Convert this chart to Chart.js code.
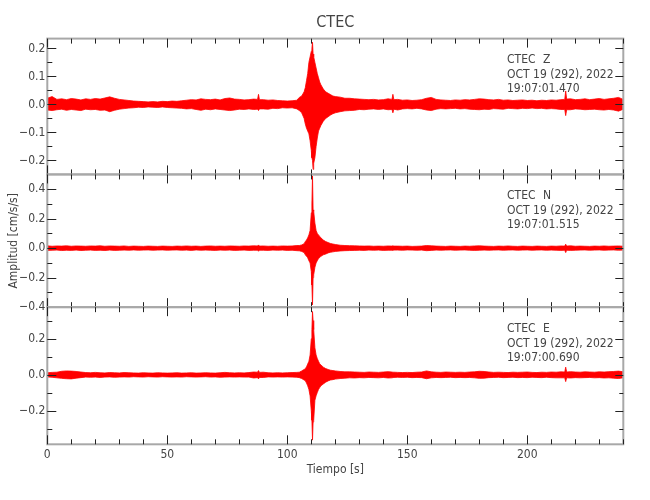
<!DOCTYPE html>
<html>
<head>
<meta charset="utf-8">
<script src="https://cdn.jsdelivr.net/npm/chart.js@4"></script>
<style>
  html, body { margin: 0; background: #fff; }
</style>
</head>
<body>
<canvas id="seis" width="650" height="500"></canvas>
<script>
// envelope of each trace (max / min per time step)
const tSec = [
  0, 2, 4, 6, 8, 10, 12, 14, 16, 18,
  20, 22, 24, 26, 28, 30, 32, 34, 36, 38,
  40, 42, 44, 46, 48, 50, 52, 54, 56, 58,
  60, 62, 64, 66, 68, 70, 72, 74, 76, 78,
  80, 82, 84, 86, 87.6, 88, 88.4, 90, 92, 94, 96, 98,
  100, 102, 104,
  105, 106, 107, 107.5, 108, 108.5, 109, 109.5, 110, 110.25,
  110.5, 110.75, 111, 111.5, 112, 112.5, 113, 113.5, 114, 115,
  116, 117, 118, 119, 120, 122, 124,
  126, 128, 130, 132, 134, 136, 138, 140, 142, 143.6, 144, 144.4,
  146, 148, 150, 152, 154, 156, 158, 160, 162, 164,
  166, 168, 170, 172, 174, 176, 178, 180, 182, 184,
  186, 188, 190, 192, 194, 196, 198, 200, 202, 204,
  206, 208, 210, 212, 214, 215.6, 216, 216.4, 218, 220, 222, 224,
  226, 228, 230, 232, 234, 236, 238, 240
];

const zMax = [
  0.022, 0.028, 0.018, 0.020, 0.017, 0.021, 0.019, 0.016, 0.020, 0.018,
  0.021, 0.019, 0.023, 0.027, 0.022, 0.018, 0.016, 0.014, 0.012, 0.011,
  0.010, 0.009, 0.010, 0.009, 0.011, 0.010, 0.012, 0.011, 0.013, 0.015,
  0.017, 0.016, 0.020, 0.018, 0.017, 0.019, 0.016, 0.021, 0.023, 0.019,
  0.018, 0.016, 0.017, 0.019, 0.018, 0.036, 0.017, 0.017, 0.015, 0.016, 0.014, 0.013,
  0.012, 0.013, 0.015,
  0.025, 0.030, 0.045, 0.060, 0.085, 0.110, 0.150, 0.170, 0.190, 0.200,
  0.222, 0.180, 0.170, 0.150, 0.130, 0.110, 0.095, 0.080, 0.070, 0.055,
  0.045, 0.040, 0.035, 0.030, 0.028, 0.026, 0.022,
  0.022, 0.020, 0.019, 0.018, 0.017, 0.018, 0.016, 0.017, 0.020, 0.018, 0.036, 0.017,
  0.018, 0.015, 0.016, 0.014, 0.015, 0.017, 0.022, 0.025, 0.018, 0.016,
  0.015, 0.014, 0.016, 0.015, 0.017, 0.016, 0.018, 0.020, 0.019, 0.017,
  0.016, 0.018, 0.015, 0.016, 0.014, 0.015, 0.016, 0.014, 0.015, 0.013,
  0.015, 0.014, 0.016, 0.015, 0.017, 0.018, 0.048, 0.019, 0.020, 0.017, 0.018, 0.020,
  0.017, 0.019, 0.021, 0.018, 0.020, 0.022, 0.025, 0.018
];
const zMin = [
  -0.020, -0.022, -0.019, -0.017, -0.021, -0.018, -0.020, -0.022, -0.017, -0.019,
  -0.018, -0.021, -0.020, -0.026, -0.021, -0.017, -0.015, -0.013, -0.012, -0.010,
  -0.011, -0.009, -0.010, -0.011, -0.009, -0.011, -0.012, -0.013, -0.014, -0.016,
  -0.015, -0.018, -0.021, -0.017, -0.019, -0.016, -0.018, -0.020, -0.022, -0.020,
  -0.017, -0.018, -0.016, -0.018, -0.017, -0.022, -0.016, -0.016, -0.017, -0.014, -0.015, -0.012,
  -0.013, -0.012, -0.016,
  -0.022, -0.030, -0.050, -0.070, -0.085, -0.095, -0.105, -0.130, -0.165, -0.190,
  -0.200, -0.232, -0.210, -0.190, -0.150, -0.120, -0.095, -0.085, -0.075, -0.060,
  -0.050, -0.044, -0.038, -0.033, -0.030, -0.026, -0.023,
  -0.022, -0.021, -0.018, -0.019, -0.017, -0.016, -0.018, -0.016, -0.019, -0.018, -0.030, -0.017,
  -0.020, -0.016, -0.015, -0.016, -0.014, -0.016, -0.020, -0.022, -0.017, -0.015,
  -0.016, -0.015, -0.014, -0.016, -0.015, -0.017, -0.018, -0.019, -0.017, -0.018,
  -0.015, -0.016, -0.017, -0.014, -0.015, -0.016, -0.014, -0.015, -0.013, -0.015,
  -0.014, -0.016, -0.015, -0.016, -0.018, -0.018, -0.040, -0.019, -0.019, -0.016, -0.017, -0.019,
  -0.018, -0.017, -0.019, -0.020, -0.018, -0.020, -0.024, -0.017
];

const nMax = [
  0.016, 0.013, 0.015, 0.014, 0.016, 0.013, 0.015, 0.014, 0.013, 0.015,
  0.014, 0.016, 0.013, 0.015, 0.014, 0.013, 0.015, 0.012, 0.014, 0.013,
  0.012, 0.014, 0.013, 0.012, 0.014, 0.013, 0.012, 0.014, 0.013, 0.015,
  0.013, 0.014, 0.012, 0.014, 0.015, 0.013, 0.014, 0.013, 0.015, 0.014,
  0.013, 0.015, 0.014, 0.016, 0.015, 0.022, 0.014, 0.015, 0.013, 0.014, 0.013, 0.015,
  0.014, 0.015, 0.018,
  0.018, 0.022, 0.030, 0.045, 0.055, 0.070, 0.090, 0.120, 0.240, 0.300,
  0.490, 0.260, 0.250, 0.170, 0.120, 0.100, 0.090, 0.080, 0.070, 0.055,
  0.045, 0.038, 0.032, 0.028, 0.025, 0.020, 0.018,
  0.017, 0.016, 0.015, 0.014, 0.015, 0.013, 0.014, 0.013, 0.015, 0.014, 0.016, 0.014,
  0.014, 0.013, 0.014, 0.012, 0.013, 0.014, 0.018, 0.016, 0.014, 0.013,
  0.012, 0.014, 0.013, 0.012, 0.014, 0.013, 0.015, 0.016, 0.014, 0.013,
  0.012, 0.014, 0.013, 0.015, 0.013, 0.012, 0.014, 0.013, 0.012, 0.014,
  0.013, 0.012, 0.014, 0.013, 0.015, 0.014, 0.027, 0.014, 0.016, 0.013, 0.014, 0.013,
  0.012, 0.014, 0.013, 0.015, 0.013, 0.014, 0.015, 0.013
];
const nMin = [
  -0.015, -0.014, -0.013, -0.016, -0.014, -0.015, -0.013, -0.016, -0.014, -0.013,
  -0.015, -0.014, -0.016, -0.013, -0.015, -0.014, -0.013, -0.014, -0.012, -0.014,
  -0.013, -0.012, -0.014, -0.013, -0.012, -0.014, -0.013, -0.012, -0.014, -0.013,
  -0.015, -0.012, -0.014, -0.013, -0.014, -0.015, -0.013, -0.014, -0.013, -0.015,
  -0.014, -0.013, -0.015, -0.014, -0.014, -0.021, -0.014, -0.014, -0.015, -0.013, -0.014, -0.013,
  -0.015, -0.014, -0.017,
  -0.018, -0.022, -0.030, -0.045, -0.055, -0.065, -0.085, -0.100, -0.160, -0.250,
  -0.385, -0.200, -0.180, -0.130, -0.100, -0.085, -0.070, -0.064, -0.055, -0.045,
  -0.040, -0.032, -0.028, -0.025, -0.022, -0.019, -0.017,
  -0.016, -0.015, -0.014, -0.015, -0.013, -0.014, -0.013, -0.015, -0.014, -0.014, -0.015, -0.013,
  -0.013, -0.014, -0.012, -0.013, -0.014, -0.013, -0.017, -0.015, -0.013, -0.014,
  -0.013, -0.012, -0.014, -0.013, -0.012, -0.014, -0.015, -0.014, -0.013, -0.014,
  -0.013, -0.012, -0.014, -0.013, -0.012, -0.014, -0.013, -0.012, -0.014, -0.013,
  -0.012, -0.014, -0.013, -0.014, -0.015, -0.014, -0.030, -0.014, -0.015, -0.014, -0.013, -0.012,
  -0.014, -0.013, -0.012, -0.014, -0.013, -0.012, -0.014, -0.013
];

const eMax = [
  0.012, 0.014, 0.015, 0.020, 0.022, 0.021, 0.019, 0.016, 0.013, 0.012,
  0.014, 0.012, 0.011, 0.013, 0.012, 0.011, 0.013, 0.012, 0.011, 0.010,
  0.012, 0.011, 0.010, 0.012, 0.011, 0.010, 0.011, 0.012, 0.010, 0.011,
  0.012, 0.010, 0.011, 0.012, 0.011, 0.010, 0.012, 0.014, 0.012, 0.011,
  0.012, 0.011, 0.013, 0.016, 0.015, 0.024, 0.014, 0.015, 0.012, 0.011, 0.012, 0.011,
  0.012, 0.013, 0.014,
  0.015, 0.022, 0.030, 0.034, 0.045, 0.060, 0.075, 0.110, 0.200, 0.250,
  0.350, 0.300, 0.250, 0.150, 0.110, 0.090, 0.075, 0.062, 0.055, 0.043,
  0.035, 0.030, 0.026, 0.024, 0.022, 0.019, 0.017,
  0.017, 0.016, 0.015, 0.014, 0.016, 0.015, 0.014, 0.016, 0.018, 0.016, 0.015, 0.015,
  0.014, 0.013, 0.014, 0.013, 0.015, 0.016, 0.022, 0.017, 0.015, 0.014,
  0.016, 0.015, 0.014, 0.015, 0.014, 0.016, 0.017, 0.020, 0.019, 0.016,
  0.014, 0.015, 0.014, 0.013, 0.015, 0.014, 0.015, 0.016, 0.014, 0.013,
  0.015, 0.014, 0.016, 0.015, 0.017, 0.016, 0.043, 0.016, 0.018, 0.016, 0.015, 0.017,
  0.016, 0.015, 0.017, 0.016, 0.018, 0.019, 0.021, 0.017
];
const eMin = [
  -0.011, -0.013, -0.016, -0.019, -0.021, -0.022, -0.018, -0.015, -0.012, -0.013,
  -0.012, -0.014, -0.012, -0.011, -0.013, -0.012, -0.011, -0.012, -0.010, -0.011,
  -0.012, -0.010, -0.011, -0.012, -0.010, -0.011, -0.012, -0.011, -0.012, -0.010,
  -0.011, -0.012, -0.011, -0.010, -0.012, -0.011, -0.013, -0.012, -0.011, -0.012,
  -0.011, -0.012, -0.012, -0.017, -0.015, -0.022, -0.014, -0.014, -0.011, -0.012, -0.011, -0.012,
  -0.011, -0.012, -0.013,
  -0.015, -0.020, -0.028, -0.032, -0.045, -0.060, -0.080, -0.116, -0.200, -0.250,
  -0.360, -0.260, -0.250, -0.140, -0.115, -0.097, -0.080, -0.070, -0.060, -0.050,
  -0.040, -0.033, -0.028, -0.026, -0.023, -0.020, -0.018,
  -0.016, -0.017, -0.015, -0.016, -0.014, -0.015, -0.016, -0.014, -0.017, -0.016, -0.015, -0.014,
  -0.013, -0.014, -0.013, -0.015, -0.014, -0.015, -0.021, -0.016, -0.014, -0.015,
  -0.014, -0.013, -0.015, -0.014, -0.015, -0.014, -0.016, -0.019, -0.018, -0.015,
  -0.014, -0.013, -0.015, -0.014, -0.013, -0.015, -0.014, -0.015, -0.013, -0.014,
  -0.015, -0.013, -0.015, -0.016, -0.016, -0.016, -0.037, -0.016, -0.017, -0.015, -0.016, -0.015,
  -0.014, -0.016, -0.015, -0.017, -0.016, -0.018, -0.020, -0.016
];

const station = 'CTEC';
const channels = ['Z', 'N', 'E'];
const dateLabel = 'OCT 19 (292), 2022';
const startTimes = ['19:07:01.470', '19:07:01.515', '19:07:00.690'];

const xMajorTicks = [0, 50, 100, 150, 200];
const xMinorTicks = [10, 20, 30, 40, 60, 70, 80, 90, 110, 120, 130, 140, 160, 170, 180, 190, 210, 220, 230, 240];
const zTicks = [-0.2, -0.1, 0, 0.1, 0.2];
const zMinorTicks = [-0.15, -0.05, 0.05, 0.15];
const nTicks = [-0.4, -0.2, 0, 0.2, 0.4];
const nMinorTicks = [-0.3, -0.1, 0.1, 0.3];
const eTicks = [-0.2, 0, 0.2];
const eMinorTicks = [-0.3, -0.1, 0.1, 0.3];

const FONT = "'Liberation Sans Narrow', 'DejaVu Sans Condensed', 'Liberation Sans', sans-serif";
const TEXT = '#444';
Chart.defaults.font.family = FONT;
Chart.defaults.color = TEXT;

const panels = [
  { id: 'yZ', hi: zMax, lo: zMin, ticks: zTicks, minor: zMinorTicks, min: -0.25, max: 0.235, h: 135.7, weight: 3 },
  { id: 'yN', hi: nMax, lo: nMin, ticks: nTicks, minor: nMinorTicks, min: -0.4, max: 0.5, h: 132.6, weight: 2 },
  { id: 'yE', hi: eMax, lo: eMin, ticks: eTicks, minor: eMinorTicks, min: -0.383, max: 0.374, h: 137, weight: 1 }
];

const datasets = [];
panels.forEach(p => {
  datasets.push({
    data: tSec.map((t, i) => ({ x: t, y: p.hi[i] })),
    yAxisID: p.id,
    borderColor: '#ff0000',
    backgroundColor: '#ff0000',
    borderWidth: 0.8,
    pointRadius: 0,
    fill: '+1'
  });
  datasets.push({
    data: tSec.map((t, i) => ({ x: t, y: p.lo[i] })),
    yAxisID: p.id,
    borderColor: '#ff0000',
    borderWidth: 0.8,
    pointRadius: 0,
    fill: false
  });
});

const fmt = v => (v < 0 ? '\u2212' : '') + Math.abs(v).toFixed(1);

const scales = {
  x: {
    type: 'linear',
    position: 'bottom',
    min: 0,
    max: 240,
    grid: { display: false, drawTicks: false },
    border: { display: false },
    afterBuildTicks: s => { s.ticks = xMajorTicks.map(v => ({ value: v })); },
    ticks: { color: TEXT, font: { size: 12 }, padding: 3, maxRotation: 0, autoSkip: false },
    title: { display: true, text: 'Tiempo [s]', color: TEXT, font: { size: 12 }, padding: { top: 0, bottom: 23 } },
    afterFit: s => { s.height = 55.7; }
  }
};
panels.forEach((p, i) => {
  scales[p.id] = {
    type: 'linear',
    position: 'left',
    stack: 'traces',
    stackWeight: p.h,
    weight: p.weight,
    min: p.min,
    max: p.max,
    grid: { display: false, drawTicks: false },
    border: { display: false },
    afterBuildTicks: s => { s.ticks = p.ticks.map(v => ({ value: v })); },
    ticks: { color: TEXT, font: { size: 12 }, padding: 2, autoSkip: false, callback: fmt },
    title: {
      display: i === 1,
      text: 'Amplitud [cm/s/s]',
      color: TEXT,
      font: { size: 12 },
      padding: { top: 7, bottom: 0 }
    },
    afterFit: s => { s.width = 47.3; }
  };
});

// panel frames, inward tick marks and station labels
const framePlugin = {
  id: 'frames',
  afterDatasetsDraw(chart) {
    const { ctx, chartArea: a, scales: sc } = chart;
    const x = sc.x;
    ctx.save();
    panels.forEach((p, i) => {
      const s = sc[p.id];
      const top = s.top, bot = s.bottom;

      ctx.strokeStyle = '#a8a8a8';
      ctx.lineWidth = 2;
      ctx.strokeRect(a.left, top, a.right - a.left, bot - top);

      ctx.strokeStyle = '#222';
      ctx.lineWidth = 1;
      ctx.beginPath();
      const xt = (list, len) => list.forEach(v => {
        const px = Math.round(x.getPixelForValue(v)) + 0.5;
        ctx.moveTo(px, top); ctx.lineTo(px, top + len);
        ctx.moveTo(px, bot); ctx.lineTo(px, bot - len);
      });
      const yt = (list, lenL, lenR) => list.forEach(v => {
        const py = Math.round(s.getPixelForValue(v)) + 0.5;
        ctx.moveTo(a.left, py); ctx.lineTo(a.left + lenL, py);
        ctx.moveTo(a.right, py); ctx.lineTo(a.right - lenR, py);
      });
      xt(xMajorTicks, 9);
      xt(xMinorTicks, 5);
      yt(p.ticks, 9, 8);
      yt(p.minor, 5, 4);
      ctx.stroke();

      ctx.fillStyle = TEXT;
      ctx.font = '12px ' + FONT;
      ctx.textBaseline = 'middle';
      ctx.textAlign = 'left';
      ctx.fillText(station, 507, top + 21.5);
      ctx.fillText(channels[i], 543, top + 21.5);
      ctx.fillText(dateLabel, 507, top + 36.5);
      ctx.fillText(startTimes[i], 507, top + 50.5);
    });
    ctx.restore();
  }
};

new Chart(document.getElementById('seis'), {
  type: 'line',
  data: { datasets },
  options: {
    responsive: false,
    animation: false,
    events: [],
    layout: { padding: { left: 0, right: 26.7, top: 0, bottom: 0 } },
    elements: { line: { tension: 0 } },
    plugins: {
      legend: { display: false },
      tooltip: { enabled: false },
      title: {
        display: true,
        text: 'CTEC',
        color: TEXT,
        fullSize: false,
        font: { size: 16, weight: 'normal' },
        padding: { top: 13, bottom: 6.4 }
      }
    },
    scales
  },
  plugins: [framePlugin]
});
</script>
</body>
</html>
